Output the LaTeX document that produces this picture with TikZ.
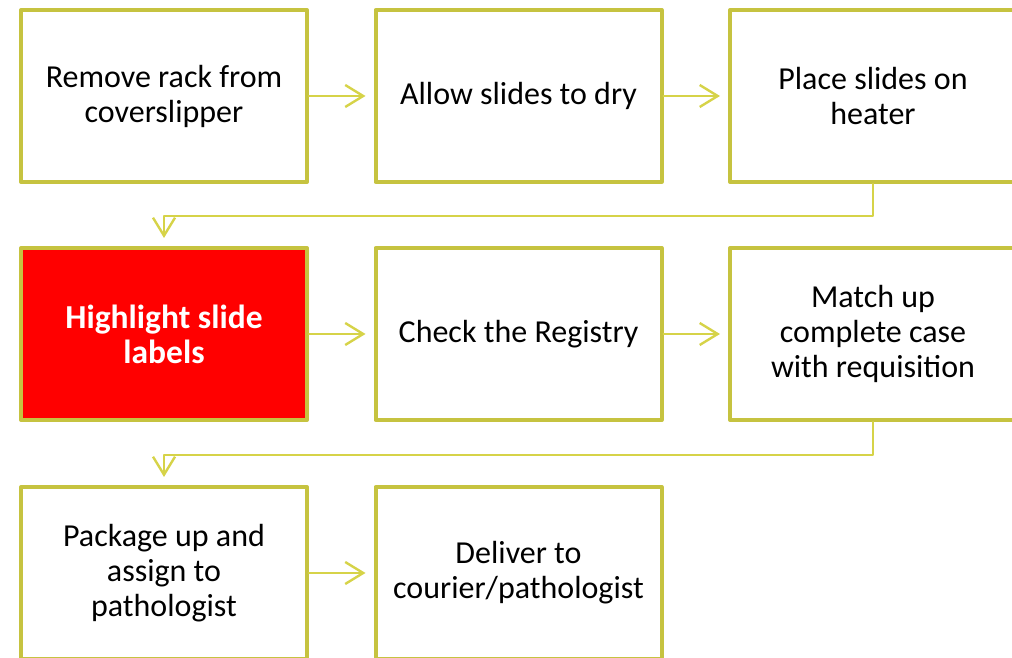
\documentclass[tikz,border=0pt]{standalone}
\usepackage{fontspec}
\setmainfont{Carlito}
\usetikzlibrary{arrows.meta}
\definecolor{boxline}{RGB}{198,195,64}
\definecolor{linkline}{RGB}{214,211,72}
\tikzset{
  stepbox/.style={draw=boxline, line width=4pt, fill=white, minimum width=286pt,
    minimum height=172pt, align=center, font=\fontsize{32}{35}\selectfont},
  hotbox/.style={stepbox, fill=red, text=white, font=\fontsize{33.5}{35}\selectfont\bfseries},
  link/.style={draw=linkline, line width=2.2pt, shorten >=8pt,
    -{Straight Barb[length=18pt, width=22pt, line width=2.4pt]}},
}
\begin{document}
\begin{tikzpicture}[x=1pt, y=1pt, line cap=round, line join=round]
  \clip (0,0) rectangle (1012,658);
  % first row
  \node[stepbox] (remove) at (164,562) {Remove rack from\\coverslipper};
  \node[stepbox] (dry) at (518.5,562) {Allow slides to dry};
  \node[stepbox] (heater) at (873,562) {Place slides on\\heater};
  % second row
  \node[hotbox] (highlight) at (164,324) {Highlight slide\\labels};
  \node[stepbox] (registry) at (518.5,324) {Check the Registry};
  \node[stepbox] (match) at (873,324) {Match up\\complete case\\with requisition};
  % third row
  \node[stepbox] (package) at (164,85) {Package up and\\assign to\\pathologist};
  \node[stepbox] (deliver) at (518.5,85) {Deliver to\\courier/pathologist};
  % the links
  \draw[link] (remove) -- (dry);
  \draw[link] (dry) -- (heater);
  \draw[link] (heater.south) -- ++(0,-32) -| (highlight.north);
  \draw[link] (highlight) -- (registry);
  \draw[link] (registry) -- (match);
  \draw[link] (match.south) -- ++(0,-33) -| (package.north);
  \draw[link] (package) -- (deliver);
\end{tikzpicture}
\end{document}
